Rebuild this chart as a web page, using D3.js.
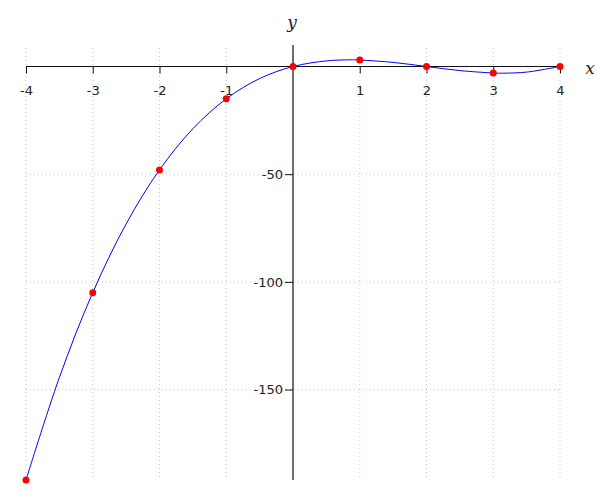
<!DOCTYPE html>
<html><head><meta charset="utf-8">
<script src="https://cdn.jsdelivr.net/npm/d3@7/dist/d3.min.js"></script>
<style>body{margin:0;background:#fff;}</style>
</head><body>
<svg id="c" width="600" height="500"></svg>
<script>
const pointX = [-4, -3, -2, -1, 0, 1, 2, 3, 4];
const pointY = [-192, -105, -48, -15, 0, 3, 0, -3, 0];
const curveX = [-4, -3.5, -3, -2.5, -2, -1.5, -1, -0.5, 0, 0.5, 0.85, 1, 1.5, 2, 2.5, 3, 3.15, 3.5, 4];
const curveY = [-192, -144.4, -105, -73.1, -48, -28.9, -15, -5.6, 0, 2.6, 3.1, 3, 1.9, 0, -1.9, -3, -3.1, -2.6, 0];
const xTicks = [-4, -3, -2, -1, 1, 2, 3, 4];
const yTicks = [-50, -100, -150];

const svg = d3.select("#c");
const x = d3.scaleLinear().domain([-4, 4]).range([26, 560]);
const y = d3.scaleLinear().domain([0, -192]).range([66.5, 480]);
const font = "DejaVu Sans, sans-serif";

// grid
svg.append("g").selectAll("line").data(pointX).join("line")
  .attr("x1", d => x(d)).attr("x2", d => x(d)).attr("y1", 48).attr("y2", 480)
  .attr("stroke", "#c8c8c8").attr("stroke-dasharray", "1,3");
svg.append("g").selectAll("line").data(yTicks).join("line")
  .attr("x1", 26).attr("x2", 560).attr("y1", d => y(d)).attr("y2", d => y(d))
  .attr("stroke", "#c8c8c8").attr("stroke-dasharray", "1,3");

// x axis
const xa = svg.append("g").attr("transform", `translate(0,${y(0)})`)
  .call(d3.axisBottom(x).tickValues(xTicks).tickSize(7).tickSizeOuter(0).tickPadding(12).tickFormat(d => String(d)));
xa.select(".domain").remove();
xa.append("line").attr("x1", 26).attr("x2", 560).attr("stroke", "#111").attr("stroke-width", 1.2);
xa.selectAll(".tick line").attr("stroke", "#111");
xa.selectAll(".tick text").attr("font-family", font).attr("font-size", 13).attr("fill", "#222");

// y axis
const ya = svg.append("g").attr("transform", `translate(${x(0)},0)`)
  .call(d3.axisLeft(y).tickValues(yTicks).tickSize(8).tickSizeOuter(0).tickPadding(2).tickFormat(d => String(d)));
ya.select(".domain").remove();
ya.append("line").attr("y1", 45).attr("y2", 480).attr("stroke", "#111").attr("stroke-width", 1.2);
ya.selectAll(".tick line").attr("stroke", "#111");
ya.selectAll(".tick text").attr("font-family", font).attr("font-size", 13).attr("fill", "#222");

// axis names
svg.append("text").attr("x", 292).attr("y", 28).attr("text-anchor", "middle")
  .attr("font-family", "DejaVu Serif, serif").attr("font-style", "italic").attr("font-size", 17).attr("fill", "#222").text("y");
svg.append("text").attr("x", 590).attr("y", 74).attr("text-anchor", "middle")
  .attr("font-family", "DejaVu Serif, serif").attr("font-style", "italic").attr("font-size", 17).attr("fill", "#222").text("x");

// curve
const line = d3.line().x(d => x(d[0])).y(d => y(d[1])).curve(d3.curveCatmullRom.alpha(0.5));
svg.append("path").datum(curveX.map((v, i) => [v, curveY[i]])).attr("d", line)
  .attr("fill", "none").attr("stroke", "#0000ff").attr("stroke-width", 1);

// points
svg.append("g").selectAll("circle").data(pointX.map((v, i) => [v, pointY[i]])).join("circle")
  .attr("cx", d => x(d[0])).attr("cy", d => y(d[1])).attr("r", 3.5).attr("fill", "#ff0000");
</script>
</body></html>
